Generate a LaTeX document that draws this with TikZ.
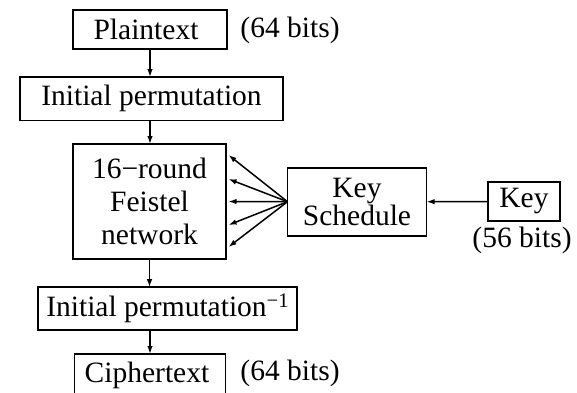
\documentclass[tikz,border=0pt]{standalone}
\usepackage{fontspec}
\setmainfont{Liberation Serif}
\usetikzlibrary{arrows.meta}
\begin{document}
\begin{tikzpicture}[x=1pt,y=-1pt,
  box/.style={draw,line width=1.6pt,inner sep=0pt,outer sep=0pt,align=center},
  lbl/.style={inner sep=0pt,outer sep=0pt},
  conn/.style={line width=1.5pt,-{Latex[length=8pt,width=5.5pt]}},
  every node/.style={font=\fontsize{29.5}{33}\selectfont}]
\useasboundingbox (0,0) rectangle (577,392);
\node[box,minimum width=154pt,minimum height=39pt] (plain) at (150,29.5) {Plaintext\hspace{8pt}};
\node[lbl] (bits1) at (290,30) {(64 bits)};
\node[box,minimum width=263pt,minimum height=43.5pt] (ip) at (151.5,98.8) {Initial permutation};
\node[box,minimum width=153pt,minimum height=115pt] (feistel) at (149.5,201.5) {16−round\\Feistel\\network};
\node[box,minimum width=139pt,minimum height=68pt,font=\fontsize{29.5}{28}\selectfont] (ks) at (357,201.7) {Key\\Schedule};
\node[box,minimum width=72pt,minimum height=38.5pt] (key) at (524,201.5) {Key};
\node[lbl,anchor=base] (bits56) at (522,247) {(56 bits)};
\node[box,minimum width=259pt,minimum height=43pt] (ipinv) at (167.7,308.7) {Initial permutation\textsuperscript{−1}};
\node[box,minimum width=151pt,minimum height=42pt] (cipher) at (150,375) {Ciphertext\hspace{6pt}};
\node[lbl] (bits2) at (290,373) {(64 bits)};
\draw[conn] (plain.south) -- (plain.south |- ip.north);
\draw[conn] (plain.south |- ip.south) -- (plain.south |- feistel.north);
\draw[conn] (feistel.south) -- (feistel.south |- ipinv.north);
\draw[conn] (cipher.north |- ipinv.south) -- (cipher.north);
\draw[conn] (key.west) -- (ks.east);
\coordinate (f1) at (228.5,155);
\coordinate (f2) at (228.5,179);
\coordinate (f3) at (228.5,201.5);
\coordinate (f4) at (228.5,225);
\coordinate (f5) at (228.5,247);
\foreach \i in {1,...,5} \draw[conn] (ks.west) -- (f\i);
\end{tikzpicture}
\end{document}
